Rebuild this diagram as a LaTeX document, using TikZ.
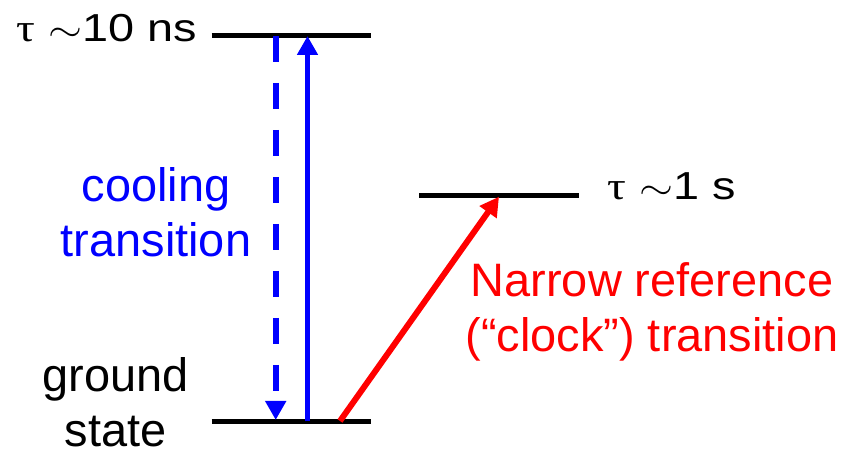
\documentclass[tikz,border=0pt]{standalone}
\usepackage{fontspec}
\setmainfont{Liberation Sans}
\newfontfamily\taufont{Liberation Serif}
\usetikzlibrary{arrows.meta}
\newcommand{\lifetime}[1]{\scalebox{1.2}[1]{{\taufont τ} $\sim$#1}}
\tikzset{
  level/.style={line width=3.4pt},
  trans/.style={line width=3.4pt,-{Triangle[length=0.38cm,width=0.4cm]}},
  big/.style={font=\fontsize{26.7}{31.3}\selectfont,inner sep=0pt,align=center},
  small/.style={font=\fontsize{22.2}{26}\selectfont,inner sep=0pt}
}
\begin{document}
\begin{tikzpicture}[scale=1.0,>=Triangle]
    \useasboundingbox (0,0) rectangle (16.98,9.10);
    % --- the three levels ---
    \draw[level] (4.234,8.39) coordinate (eL) -- (7.414,8.39) coordinate (eR);
    \draw[level] (8.386,5.19) coordinate (cL) -- (11.586,5.19) coordinate (cR);
    \draw[level] (4.234,0.67) coordinate (gL) -- (7.42,0.67) coordinate (gR);
    % points where the transitions meet the levels
    \coordinate (dTop) at (5.514,8.38);
    \coordinate (dBot) at (5.514,0.70);
    \coordinate (uBot) at (6.15,0.67);
    \coordinate (uTop) at (6.15,8.38);
    \coordinate (rBot) at (6.80,0.68);
    \coordinate (rTop) at (9.98,5.166);
    % --- transitions ---
    \draw[trans,blue,dash pattern=on 0.52cm off 0.42cm] (dTop) -- (dBot);
    \draw[trans,blue] (uBot) -- (uTop);
    \draw[trans,red] (rBot) -- (rTop);
    % --- labels (base = baseline of the last line) ---
    \node[small,anchor=base east] (tauE) at (3.94,8.266) {\lifetime{10 ns}};
    \node[small,anchor=base west] (tauC) at (12.14,5.10) {\lifetime{1 s}};
    \node[big,blue,anchor=base] (cool) at (3.12,3.966) {cooling\\transition};
    \node[big,anchor=base] (ground) at (2.316,0.17) {ground\\state};
    \node[big,red,anchor=base] (clock) at (13.04,2.066)
      {Narrow reference\\(“clock”) transition};
  \end{tikzpicture}
\end{document}
